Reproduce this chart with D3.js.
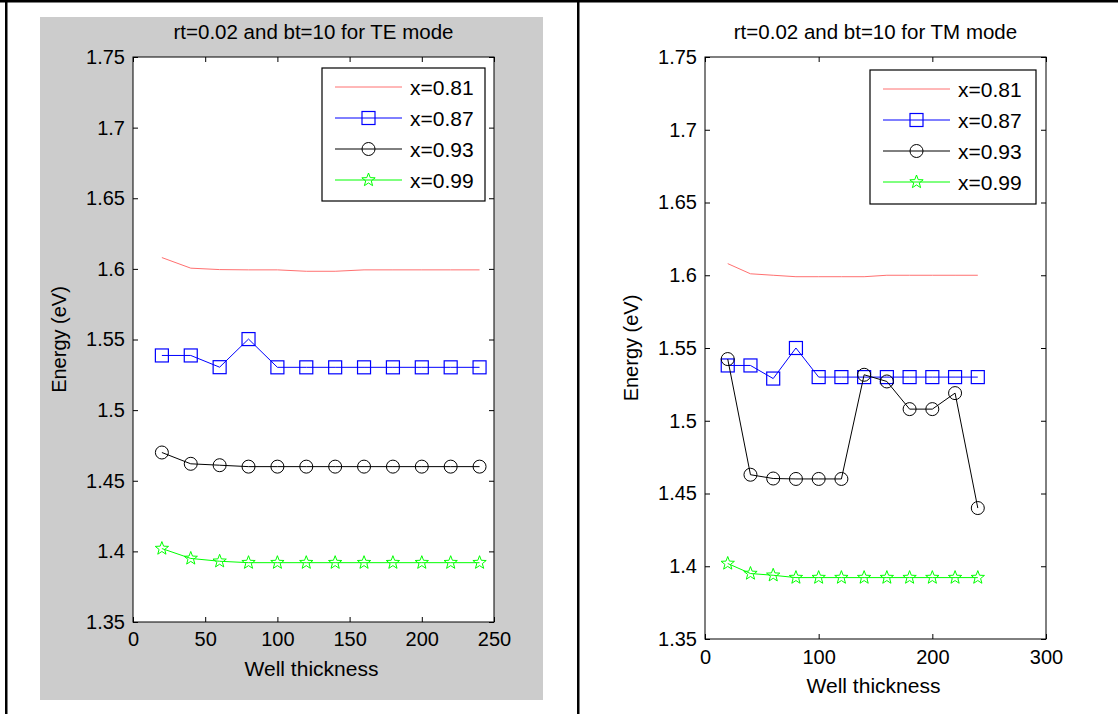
<!DOCTYPE html>
<html><head><meta charset="utf-8">
<script src="https://cdn.jsdelivr.net/npm/d3@7"></script>
<style>
body{margin:0;background:#fff;}
svg{display:block;font-family:"Liberation Sans",Arial,Helvetica,sans-serif;}
</style></head>
<body><svg id="c" width="1118" height="714"></svg>
<script>
const wellThickness = [20,40,60,80,100,120,140,160,180,200,220,240];
const seriesNames = ["x=0.81","x=0.87","x=0.93","x=0.99"];
// TE mode
const te081 = [1.608,1.6005,1.5995,1.5993,1.5993,1.5983,1.5983,1.5993,1.5993,1.5993,1.5993,1.5993];
const te087 = [1.5387,1.5387,1.5304,1.5503,1.5303,1.5303,1.5303,1.5303,1.5303,1.5303,1.5303,1.5303];
const te093 = [1.470,1.462,1.461,1.460,1.460,1.460,1.460,1.460,1.460,1.460,1.460,1.460];
const te099 = [1.402,1.395,1.393,1.392,1.392,1.392,1.392,1.392,1.392,1.392,1.392,1.392];
// TM mode
const tm081 = [1.608,1.601,1.600,1.599,1.599,1.599,1.599,1.600,1.600,1.600,1.600,1.600];
const tm087 = [1.538,1.538,1.529,1.550,1.530,1.530,1.530,1.530,1.530,1.530,1.530,1.530];
const tm093 = [1.5424,1.4629,1.4603,1.460,1.460,1.460,1.5316,1.527,1.508,1.508,1.519,1.440];
const tm099 = [1.4019,1.395,1.3938,1.3922,1.3922,1.3922,1.3922,1.3922,1.3922,1.3922,1.3922,1.3922];
const yTicks = [1.35,1.4,1.45,1.5,1.55,1.6,1.65,1.7,1.75];
const xTicksTE = [0,50,100,150,200,250];
const xTicksTM = [0,100,200,300];

const styles = [
  {color:"#ff7070", marker:"none"},
  {color:"#0000ff", marker:"square"},
  {color:"#000000", marker:"circle"},
  {color:"#00ff00", marker:"star"}
];

const svg = d3.select("#c");
// frame
svg.append("rect").attr("x",0).attr("y",0).attr("width",1118).attr("height",2.5).attr("fill","#000");
svg.append("rect").attr("x",5).attr("y",0).attr("width",2.5).attr("height",714).attr("fill","#000");
svg.append("rect").attr("x",577).attr("y",0).attr("width",2.5).attr("height",714).attr("fill","#000");
// gray figure background for left
svg.append("rect").attr("x",40).attr("y",17).attr("width",503).attr("height",683).attr("fill","#cccccc");

function star(cx,cy,R){
  const r=R*0.42, pts=[];
  for(let i=0;i<10;i++){const a=-Math.PI/2+i*Math.PI/5;const rr=i%2?r:R;pts.push([cx+rr*Math.cos(a),cy+rr*Math.sin(a)]);}
  return "M"+pts.map(p=>p.join(",")).join("L")+"Z";
}
function drawMarker(g,type,cx,cy,color){
  if(type==="square") g.append("rect").attr("x",cx-6.5).attr("y",cy-6.5).attr("width",13).attr("height",13).attr("fill","none").attr("stroke",color).attr("stroke-width",1.2);
  else if(type==="circle") g.append("circle").attr("cx",cx).attr("cy",cy).attr("r",6.5).attr("fill","none").attr("stroke",color).attr("stroke-width",1);
  else if(type==="star") g.append("path").attr("d",star(cx,cy,7)).attr("fill","none").attr("stroke",color).attr("stroke-width",1);
}

function panel(o){
  const g = svg.append("g");
  const x = d3.scaleLinear().domain(o.xdom).range([o.l,o.r]);
  const y = d3.scaleLinear().domain([1.35,1.75]).range([o.b,o.t]);
  g.append("rect").attr("x",o.l).attr("y",o.t).attr("width",o.r-o.l).attr("height",o.b-o.t).attr("fill","#fff");
  const tl=5;
  const ax = g.append("g").attr("transform",`translate(0,${o.b})`).call(d3.axisBottom(x).tickValues(o.xticks).tickSizeInner(-tl).tickSizeOuter(0).tickPadding(o.xpad).tickFormat(d3.format("d")));
  const axt = g.append("g").attr("transform",`translate(0,${o.t})`).call(d3.axisTop(x).tickValues(o.xticks).tickSizeInner(-tl).tickSizeOuter(0).tickFormat(""));
  const ay = g.append("g").attr("transform",`translate(${o.l},0)`).call(d3.axisLeft(y).tickValues(yTicks).tickSizeInner(-tl).tickSizeOuter(0).tickPadding(8).tickFormat(d=>String(+d.toFixed(2))));
  const ayr = g.append("g").attr("transform",`translate(${o.r},0)`).call(d3.axisRight(y).tickValues(yTicks).tickSizeInner(-tl).tickSizeOuter(0).tickFormat(""));
  [ax,axt,ay,ayr].forEach(a=>{a.attr("font-size",null).attr("font-family",null);a.select(".domain").remove();a.selectAll("line").attr("stroke","#000");a.selectAll("text").attr("font-size",20).attr("fill","#000");});
  g.append("rect").attr("x",o.l).attr("y",o.t).attr("width",o.r-o.l).attr("height",o.b-o.t).attr("fill","none").attr("stroke","#000").attr("stroke-width",1);
  o.series.forEach((vals,i)=>{
    const st=styles[i];
    const line=d3.line().x((d,j)=>x(wellThickness[j])).y(d=>y(d));
    g.append("path").attr("d",line(vals)).attr("fill","none").attr("stroke",st.color).attr("stroke-width",1);
    if(st.marker!=="none") vals.forEach((v,j)=>drawMarker(g,st.marker,x(wellThickness[j]),y(v),st.color));
  });
  const L=o.leg;
  g.append("rect").attr("x",L.x).attr("y",L.y).attr("width",L.w).attr("height",L.h).attr("fill","#fff").attr("stroke","#000").attr("stroke-width",1.2);
  seriesNames.forEach((n,i)=>{
    const yy=L.y+19+i*31;
    const st=styles[i];
    g.append("line").attr("x1",L.x+13).attr("x2",L.x+80).attr("y1",yy).attr("y2",yy).attr("stroke",st.color).attr("stroke-width",1);
    if(st.marker!=="none") drawMarker(g,st.marker,L.x+46.5,yy,st.color);
    g.append("text").attr("x",L.x+88).attr("y",yy+7.5).attr("font-size",21).text(n);
  });
  g.append("text").attr("x",(o.l+o.r)/2).attr("y",o.t-18).attr("text-anchor","middle").attr("font-size",20.5).text(o.title);
  g.append("text").attr("x",(o.l+o.r)/2 - 2).attr("y",o.b+54).attr("text-anchor","middle").attr("font-size",21).text("Well thickness");
  g.append("text").attr("transform",`translate(${o.l-67},${(o.t+o.b)/2}) rotate(-90)`).attr("text-anchor","middle").attr("font-size",20).text("Energy (eV)");
}

panel({l:133,r:494,t:57,b:622,xdom:[0,250],xticks:xTicksTE,xpad:10,title:"rt=0.02 and bt=10 for TE mode",
  series:[te081,te087,te093,te099],leg:{x:322,y:68,w:163,h:133}});
panel({l:705,r:1046,t:57,b:639,xdom:[0,300],xticks:xTicksTM,xpad:11,title:"rt=0.02 and bt=10 for TM mode",
  series:[tm081,tm087,tm093,tm099],leg:{x:870,y:70,w:166,h:134}});
</script></body></html>
